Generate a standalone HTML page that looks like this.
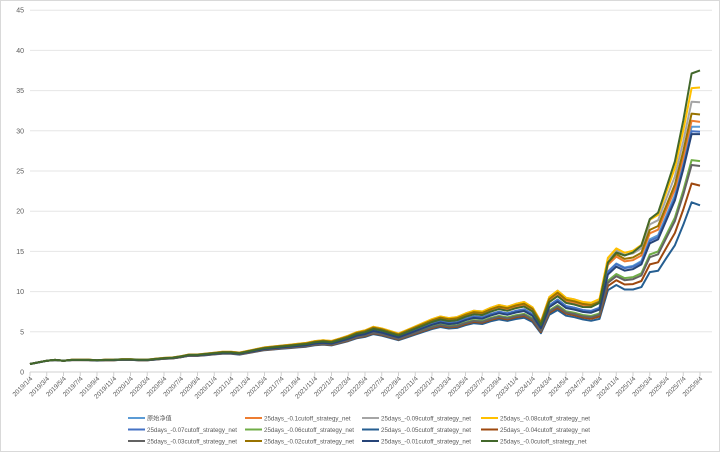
<!DOCTYPE html>
<html><head><meta charset="utf-8"><style>
body{margin:0;background:#fff;}
svg{display:block;font-family:"Liberation Sans","Noto Sans CJK SC",sans-serif;}
</style></head><body>
<svg id="chart" width="720" height="452">
<rect x="0.5" y="0.5" width="719" height="451" fill="#fff" stroke="#d9d9d9"/>
<g id="grid"></g><g id="yl"></g><g id="xl"></g><g id="series"></g><g id="legend"></g>
</svg>
<script>
const yTicks=[0,5,10,15,20,25,30,35,40,45];
const base=[1.0,1.2,1.4,1.5,1.4,1.5,1.5,1.5,1.45,1.5,1.5,1.55,
1.55,1.5,1.5,1.6,1.7,1.75,1.9,2.1,2.1,2.2,2.3,2.4,
2.4,2.3,2.5,2.7,2.9,3.0,3.1,3.2,3.3,3.4,3.6,3.7,
3.6,3.9,4.2,4.6,4.8,5.2,5.0,4.7,4.4,4.8,5.2,5.6,
6.0,6.3,6.1,6.2,6.6,6.9,6.8,7.2,7.5,7.3,7.6,7.8,
7.2,5.6,8.3,9.0,8.2,8.0,7.7,7.6,8.0,12.5,13.5,13.0,
13.2,13.8,16.5,17.0,19.5,22.0,26.0,30.5,30.5];
const names=["原始净值","25days_-0.1cutoff_strategy_net","25days_-0.09cutoff_strategy_net","25days_-0.08cutoff_strategy_net",
"25days_-0.07cutoff_strategy_net","25days_-0.06cutoff_strategy_net","25days_-0.05cutoff_strategy_net","25days_-0.04cutoff_strategy_net",
"25days_-0.03cutoff_strategy_net","25days_-0.02cutoff_strategy_net","25days_-0.01cutoff_strategy_net","25days_-0.0cutoff_strategy_net"];
const colors=["#5B9BD5","#ED7D31","#A5A5A5","#FFC000","#4472C4","#70AD47","#255E91","#9E480E","#636363","#997300","#264478","#43682B"];
const midRatio=[1,1.08,1.13,1.13,1.0,0.92,0.85,0.88,0.9,1.1,0.97,1.05];
const endRatio=[1,1.02,1.1,1.16,0.98,0.86,0.68,0.76,0.84,1.05,0.97,1.23];
const midIdx=66;
const x0=30,dx=8.375,y0=372,ky=8.04;
const X=i=>x0+i*dx, Y=v=>y0-v*ky;
const NS="http://www.w3.org/2000/svg";
function mk(t,a,p){const e=document.createElementNS(NS,t);for(const k in a)e.setAttribute(k,a[k]);document.getElementById(p).appendChild(e);return e;}
yTicks.forEach(v=>{
 const l=mk("line",{x1:30,x2:712,y1:Y(v),y2:Y(v),stroke:v?"#e6e6e6":"#d0d0d0","stroke-width":1},"grid");
 
 
 const t=mk("text",{x:24,y:Y(v)+2.5,"font-size":7,fill:"#595959","text-anchor":"end"},"yl");t.textContent=v;
 
 
});
for(let i=0;i<base.length;i+=2){
 const y=2019+Math.floor(i/12),m=i%12+1;
 const tk=mk("line",{x1:X(i),x2:X(i),y1:372,y2:376,stroke:"#d0d0d0"},"grid");
 
 
 const t=mk("text",{x:X(i)+3,y:379,"font-size":6.5,fill:"#595959","text-anchor":"end",transform:`rotate(-45 ${X(i)+3} 379)`},"xl");
 t.textContent=`${y}/${m}/4`;
 
 
}
const legX=[128,245,362,481];
names.forEach((n,s)=>{
 const pts=base.map((v,i)=>{
  let r;
  if(i<=midIdx) r=1+(midRatio[s]-1)*i/midIdx; else r=midRatio[s]+(endRatio[s]-midRatio[s])*(i-midIdx)/(base.length-1-midIdx);
  return X(i).toFixed(1)+","+Y(v*r).toFixed(1);
 });
 const p=mk("polyline",{points:pts.join(" "),fill:"none",stroke:colors[s],"stroke-width":2,"stroke-linejoin":"round"},"series");
 
 
 const col=s%4,row=Math.floor(s/4);
 const lx=legX[col],ly=418+row*11.5;
 const ll=mk("line",{x1:lx,x2:lx+17,y1:ly,y2:ly,stroke:colors[s],"stroke-width":2},"legend");
 
 
 const lt=mk("text",{x:lx+19,y:ly+2.3,"font-size":6.2,fill:"#595959"},"legend");lt.textContent=n;
 
 
});
</script>
</body></html>
